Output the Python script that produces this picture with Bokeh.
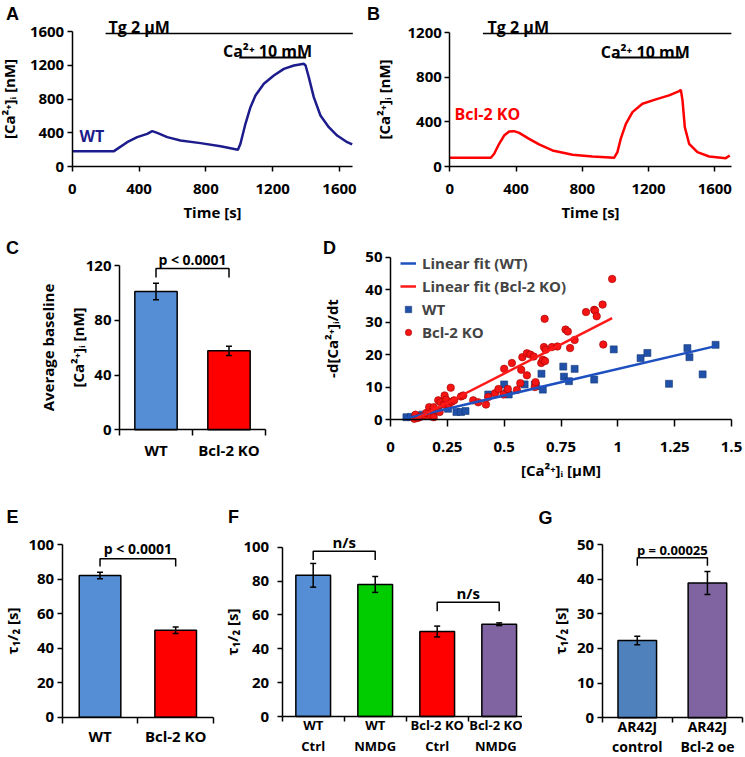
from bokeh.plotting import figure
from bokeh.models import (Range1d, FixedTicker, ColumnDataSource, Whisker, TeeHead,
                          Label, Legend, LegendItem, NumeralTickFormatter)
from bokeh.layouts import row, column
from bokeh.embed import file_html
from bokeh.resources import INLINE

FONT = "Open Sans"
LETTER_FONT = "Liberation Sans"

# ---------------- data ----------------
tg_start = 200      # s, thapsigargin added
ca_start = 1000     # s, 10 mM Ca2+ added
ca_end = 1400       # s, Ca2+ removed

time_wt = [0, 250, 270, 329, 389, 449, 479, 509, 569, 648, 768, 888, 992, 1007, 1037,
           1067, 1097, 1147, 1207, 1267, 1327, 1387, 1397, 1416, 1446, 1486, 1536, 1586, 1646, 1676]
ca_wt = [182, 182, 209, 288, 348, 387, 419, 399, 348, 308, 277, 241, 198, 269, 506,
         703, 841, 980, 1078, 1157, 1197, 1217, 1197, 1059, 822, 604, 466, 367, 288, 261]

time_ko = [0, 248, 268, 298, 328, 358, 388, 419, 479, 539, 620, 741, 861, 992, 1012,
           1032, 1063, 1103, 1163, 1244, 1324, 1385, 1395, 1405, 1419, 1445, 1495, 1566, 1666, 1690]
ca_ko = [78, 78, 114, 204, 278, 314, 317, 302, 248, 198, 144, 105, 90, 78, 129,
         248, 383, 488, 563, 602, 638, 676, 688, 593, 353, 204, 129, 90, 75, 99]

rate_wt_ca = [0.07, 0.09, 0.11, 0.14, 0.17, 0.21, 0.253, 0.29, 0.31, 0.33, 0.43, 0.50, 0.51,
              0.52, 0.59, 0.635, 0.64, 0.664, 0.67, 0.76, 0.763, 0.785, 0.81, 0.896, 0.982,
              1.10, 1.13, 1.225, 1.306, 1.315, 1.373, 1.43]
rate_wt = [0.7, 0.8, 1.0, 1.5, 2.0, 2.6, 3.3, 2.3, 2.3, 2.6, 7.7, 10.8, 8.1,
           7.7, 10.8, 10.8, 10.3, 14.1, 9.2, 16.3, 13.2, 11.8, 15.6, 12.3, 21.6,
           18.9, 20.5, 11.0, 22.0, 19.2, 13.9, 23.0]

rate_ko_ca = [0.105, 0.12, 0.11, 0.13, 0.15, 0.157, 0.17, 0.178, 0.186, 0.19, 0.19, 0.21,
              0.216, 0.22, 0.235, 0.238, 0.245, 0.256, 0.265, 0.27, 0.28, 0.31, 0.32, 0.364,
              0.386, 0.42, 0.43, 0.46, 0.475, 0.497, 0.50, 0.516, 0.534, 0.556, 0.571, 0.575,
              0.58, 0.60, 0.60, 0.615, 0.63, 0.635, 0.638, 0.663, 0.67, 0.675, 0.678, 0.68,
              0.682, 0.71, 0.734, 0.77, 0.78, 0.79, 0.81, 0.86, 0.896, 0.90, 0.907, 0.933,
              0.936, 0.975]
rate_ko = [0.2, 0.5, 1.5, 0.8, 1.2, 2.0, 3.8, 1.0, 2.8, 3.8, 0.7, 5.9,
           2.3, 5.3, 4.6, 7.4, 6.1, 4.6, 9.8, 5.5, 5.9, 7.1, 7.4, 5.9,
           5.3, 4.6, 6.9, 8.1, 9.4, 7.7, 15.6, 9.4, 17.4, 9.1, 11.2, 15.3,
           19.2, 13.6, 20.4, 20.0, 19.4, 10.0, 11.5, 17.4, 18.4, 22.3, 31.0, 18.0,
           21.5, 22.3, 22.5, 27.7, 27.1, 22.0, 24.5, 33.1, 33.8, 33.5, 31.8, 35.4,
           23.1, 43.3]

fit_wt_x = [0.06, 1.43]
fit_wt_y = [0.2, 22.6]
fit_ko_x = [0.105, 0.975]
fit_ko_y = [0.0, 31.2]

c_labels = ["WT", "Bcl-2 KO"]
c_values = [101.0, 57.7]
c_errors = [6.0, 3.4]

e_labels = ["WT", "Bcl-2 KO"]
e_values = [82.0, 50.4]
e_errors = [1.9, 1.9]

f_labels = ["WT\nCtrl", "WT\nNMDG", "Bcl-2 KO\nCtrl", "Bcl-2 KO\nNMDG"]
f_values = [83.4, 78.0, 50.2, 54.5]
f_errors = [7.0, 4.7, 3.2, 0.8]

g_labels = ["AR42J\ncontrol", "AR42J\nBcl-2 oe"]
g_values = [22.3, 38.9]
g_errors = [1.2, 3.3]

BLUE = "#558ED5"
RED = "#FF0000"
GREEN = "#00CC00"
PURPLE = "#8064A2"
STEEL = "#4F81BD"
NAVY = "#1C1C8C"


# ---------------- helpers ----------------
def make_panel(box, xa, xpa, xb, xpb, ya, ypa, yb, ypb, xbounds, ybounds):
    """Figure whose frame covers the whole box; axes are pinned at data 0."""
    fx, fy, fw, fh = box
    sx = (xb - xa) / (xpb - xpa)
    sy = (yb - ya) / (ypa - ypb)
    xr = (xa + (fx - xpa) * sx, xa + (fx + fw - xpa) * sx)
    yr = (ya - (fy + fh - ypa) * sy, ya + (ypa - fy) * sy)
    p = figure(width=fw, height=fh, x_range=Range1d(*xr), y_range=Range1d(*yr),
               output_backend="svg", toolbar_location=None, title=None,
               min_border=0, min_border_left=0, min_border_right=0,
               min_border_top=0, min_border_bottom=0)
    p.outline_line_color = None
    p.xgrid.visible = False
    p.ygrid.visible = False
    p.background_fill_color = None
    p.border_fill_color = None
    for ax in (p.xaxis[0], p.yaxis[0]):
        ax.fixed_location = 0
        ax.axis_line_color = "black"
        ax.axis_line_width = 1.5
        ax.major_tick_line_color = "black"
        ax.major_tick_line_width = 1.5
        ax.major_tick_in = 0
        ax.major_tick_out = 5
        ax.minor_tick_line_color = None
        ax.major_label_text_font = FONT
        ax.major_label_text_font_style = "bold"
        ax.major_label_text_font_size = "15px"
        ax.major_label_text_color = "black"
        ax.axis_label_text_font = FONT
        ax.axis_label_text_font_style = "bold"
        ax.axis_label_text_font_size = "15px"
        ax.axis_label_text_color = "black"
        ax.major_label_standoff = 3
    p.xaxis[0].bounds = xbounds
    p.yaxis[0].bounds = ybounds

    def conv(px, py):
        return xa + (px - xpa) * sx, ya + (ypa - py) * sy
    return p, conv


def letter(p, conv, px, py, text):
    x, y = conv(px, py)
    p.add_layout(Label(x=x, y=y, text=text, text_font=LETTER_FONT, text_font_style="bold",
                       text_font_size="18px", text_align="center", text_baseline="middle",
                       text_color="black"))


def text_label(p, x, y, text, size="15px", align="center", color="black", baseline="middle"):
    p.add_layout(Label(x=x, y=y, text=text, text_font=FONT, text_font_style="bold",
                       text_font_size=size, text_align=align, text_baseline=baseline,
                       text_color=color))


def category_axis(p, labels, size, standoff, tick_out=6, line_height=1.2):
    n = len(labels)
    ax = p.xaxis[0]
    centers = [i + 0.5 for i in range(n)]
    ax.ticker = FixedTicker(ticks=centers, minor_ticks=list(range(n + 1)))
    ax.major_label_overrides = {c: lab for c, lab in zip(centers, labels)}
    ax.major_tick_out = 0
    ax.major_tick_line_color = None
    ax.minor_tick_line_color = "black"
    ax.minor_tick_line_width = 1.5
    ax.minor_tick_in = 0
    ax.minor_tick_out = tick_out
    ax.major_label_text_font_size = size
    ax.major_label_text_line_height = line_height
    ax.major_label_standoff = standoff


def bars(p, values, errors, colors, width):
    xs = [i + 0.5 for i in range(len(values))]
    src = ColumnDataSource(dict(x=xs, top=values,
                                lo=[v - e for v, e in zip(values, errors)],
                                hi=[v + e for v, e in zip(values, errors)],
                                color=colors))
    p.vbar(x="x", top="top", width=width, fill_color="color", line_color="black",
           line_width=1.5, source=src)
    wh = Whisker(source=src, base="x", upper="hi", lower="lo", line_color="black",
                 line_width=1.5, level="overlay",
                 upper_head=TeeHead(size=6, line_color="black", line_width=1.5),
                 lower_head=TeeHead(size=6, line_color="black", line_width=1.5))
    p.add_layout(wh)


def bracket(p, i0, i1, top, leg, text, size, text_y):
    x0, x1 = i0 + 0.5, i1 + 0.5
    p.line([x0, x0, x1, x1], [leg, top, top, leg], line_color="black", line_width=1.5)
    text_label(p, (x0 + x1) / 2, text_y, text, size=size)


# ---------------- Panel A ----------------
pA, cA = make_panel((0, 0, 362, 224), 0, 71.7, 1600, 339, 0, 166, 1600, 31, (0, 1680), (0, 1600))
pA.yaxis[0].ticker = FixedTicker(ticks=[0, 400, 800, 1200, 1600])
pA.xaxis[0].ticker = FixedTicker(ticks=[0, 400, 800, 1200, 1600])
pA.yaxis[0].axis_label = "[Ca²⁺]ᵢ [nM]"
pA.yaxis[0].axis_label_standoff = 8
pA.xaxis[0].axis_label = "Time [s]"
pA.xaxis[0].major_label_standoff = 12
pA.xaxis[0].axis_label_standoff = 5
pA.line(time_wt, ca_wt, line_color=NAVY, line_width=2.5)
pA.line([tg_start, 1680], [1576, 1576], line_color="black", line_width=1.5)
pA.line([ca_start, ca_end], [1292, 1292], line_color="black", line_width=2)
text_label(pA, 217, 1648, "Tg 2 μM", size="16px", align="left", baseline="alphabetic")
text_label(pA, 1169, 1363, "Ca²⁺ 10 mM", size="16px", baseline="alphabetic")
text_label(pA, 44, 367, "WT", size="16px", align="left", color=NAVY)
letter(pA, cA, 12, 13, "A")

# ---------------- Panel B ----------------
pB, cB = make_panel((362, 0, 382, 224), 0, 449.3, 1600, 714.3, 0, 166, 1200, 32.3, (0, 1700), (0, 1200))
pB.yaxis[0].ticker = FixedTicker(ticks=[0, 400, 800, 1200])
pB.xaxis[0].ticker = FixedTicker(ticks=[0, 400, 800, 1200, 1600])
pB.yaxis[0].axis_label = "[Ca²⁺]ᵢ [nM]"
pB.yaxis[0].axis_label_standoff = 10
pB.xaxis[0].axis_label = "Time [s]"
pB.xaxis[0].major_label_standoff = 12
pB.xaxis[0].axis_label_standoff = 5
pB.line(time_ko, ca_ko, line_color=RED, line_width=2.5)
pB.line([tg_start, 1700], [1194, 1194], line_color="black", line_width=1.5)
pB.line([ca_start, ca_end], [978, 978], line_color="black", line_width=2)
text_label(pB, 228, 1248, "Tg 2 μM", size="16px", align="left", baseline="alphabetic")
text_label(pB, 1180, 1028, "Ca²⁺ 10 mM", size="16px", baseline="alphabetic")
text_label(pB, 28, 467, "Bcl-2 KO", size="16px", align="left", color=RED)
letter(pB, cB, 373, 13, "B")

# ---------------- Panel C ----------------
pC, cC = make_panel((0, 224, 298, 254), 0, 119, 2, 265, 0, 429.3, 120, 265, (0, 2), (0, 120))
pC.yaxis[0].ticker = FixedTicker(ticks=[0, 40, 80, 120])
pC.yaxis[0].axis_label = "Average baseline\n[Ca²⁺]ᵢ [nM]"
pC.yaxis[0].axis_label_text_line_height = 1.5
pC.yaxis[0].axis_label_standoff = -5
category_axis(pC, c_labels, "15px", 4)
bars(pC, c_values, c_errors, [BLUE, RED], 0.58)
bracket(pC, 0, 1, 117.8, 111.2, "p < 0.0001", "14px", 124.4)
letter(pC, cC, 12, 247, "C")

# ---------------- Panel D ----------------
pD, cD = make_panel((298, 224, 446, 254), 0, 390, 1.5, 731, 0, 419, 50, 256.7, (0, 1.5), (0, 50))
pD.yaxis[0].ticker = FixedTicker(ticks=[0, 10, 20, 30, 40, 50])
pD.xaxis[0].ticker = FixedTicker(ticks=[0, 0.25, 0.5, 0.75, 1, 1.25, 1.5])
pD.xaxis[0].formatter = NumeralTickFormatter(format="0.[00]")
pD.xaxis[0].major_tick_out = 7
pD.xaxis[0].major_label_standoff = 15
pD.xaxis[0].axis_label = "[Ca²⁺]ᵢ [μM]"
pD.xaxis[0].axis_label_standoff = 5
pD.yaxis[0].axis_label = "-d[Ca²⁺]ᵢ/dt"
pD.yaxis[0].axis_label_standoff = 20
r_wt = pD.scatter(rate_wt_ca, rate_wt, marker="square", size=7, fill_color="#2050A8",
                  line_color="#163A78", line_width=0.6)
r_ko = pD.scatter(rate_ko_ca, rate_ko, marker="circle", size=7.5, fill_color="#F41414",
                  line_color="#A00000", line_width=0.6)
r_fwt = pD.line(fit_wt_x, fit_wt_y, line_color="#1E50C0", line_width=2.5)
r_fko = pD.line(fit_ko_x, fit_ko_y, line_color="#FF1A1A", line_width=2.5)
legD = Legend(items=[LegendItem(label="Linear fit (WT)", renderers=[r_fwt]),
                     LegendItem(label="Linear fit (Bcl-2 KO)", renderers=[r_fko]),
                     LegendItem(label="WT", renderers=[r_wt]),
                     LegendItem(label="Bcl-2 KO", renderers=[r_ko])],
              location=(102, 135), border_line_color=None, background_fill_alpha=0,
              label_text_font=FONT, label_text_font_style="bold", label_text_font_size="15px",
              glyph_width=16, glyph_height=16, label_height=23, spacing=0, padding=0,
              margin=0, label_standoff=6)
pD.add_layout(legD)
letter(pD, cD, 329, 247, "D")

# ---------------- Panel E ----------------
pE, cE = make_panel((0, 478, 216, 278), 0, 61.7, 2, 213, 0, 716.7, 100, 544, (0, 2), (0, 100))
pE.yaxis[0].ticker = FixedTicker(ticks=[0, 20, 40, 60, 80, 100])
pE.yaxis[0].axis_label = "τ₁/₂ [s]"
pE.yaxis[0].axis_label_standoff = 4
category_axis(pE, e_labels, "15px", 3)
bars(pE, e_values, e_errors, [BLUE, RED], 0.55)
bracket(pE, 0, 1, 91.7, 87.3, "p < 0.0001", "14px", 97.5)
letter(pE, cE, 12, 516, "E")

# ---------------- Panel F ----------------
pF, cF = make_panel((216, 478, 306, 278), 0, 281.7, 4, 529.7, 0, 716, 100, 546.7, (0, 4), (0, 100))
pF.yaxis[0].ticker = FixedTicker(ticks=[0, 20, 40, 60, 80, 100])
pF.yaxis[0].major_label_standoff = 8
pF.yaxis[0].axis_label = "τ₁/₂ [s]"
pF.yaxis[0].axis_label_standoff = -1
category_axis(pF, f_labels, "13px", -6, tick_out=5, line_height=1.2)
bars(pF, f_values, f_errors, [BLUE, GREEN, RED, PURPLE], 0.56)
bracket(pF, 0, 1, 97.6, 92.5, "n/s", "15px", 103.0)
bracket(pF, 2, 3, 67.5, 62.2, "n/s", "15px", 72.8)
letter(pF, cF, 233, 516, "F")

# ---------------- Panel G ----------------
pG, cG = make_panel((522, 478, 222, 278), 0, 601.7, 2, 742, 0, 717.3, 50, 544, (0, 2), (0, 50))
pG.yaxis[0].ticker = FixedTicker(ticks=[0, 10, 20, 30, 40, 50])
pG.yaxis[0].axis_label = "τ₁/₂ [s]"
pG.yaxis[0].axis_label_standoff = 4
category_axis(pG, g_labels, "14px", -6, tick_out=5, line_height=1.05)
bars(pG, g_values, g_errors, [STEEL, PURPLE], 0.55)
bracket(pG, 0, 1, 46.2, 43.9, "p = 0.00025", "13px", 48.3)
letter(pG, cG, 545, 517, "G")

layout = column(row(pA, pB), row(pC, pD), row(pE, pF, pG))
open("out.html", "w").write(file_html(layout, INLINE))
